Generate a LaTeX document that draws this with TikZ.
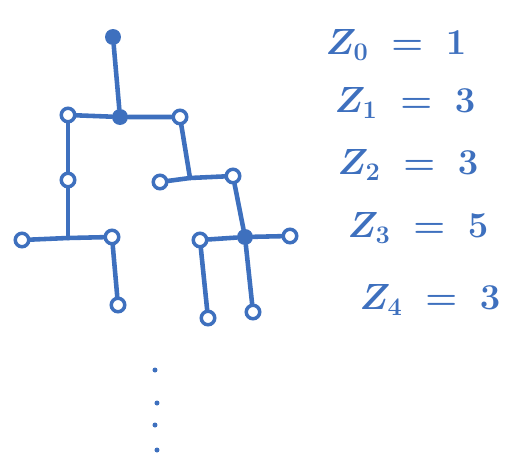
\documentclass[tikz,border=0pt]{standalone}
\usepackage{amsmath}
\usepackage{tikz}
\usetikzlibrary{positioning}
\definecolor{penblue}{RGB}{62,112,190}

\begin{document}
\begin{tikzpicture}[
  x=0.02cm, y=-0.02cm,
  open/.style={circle, draw=penblue, fill=white, line width=2pt,
               minimum size=0.27cm, inner sep=0pt},
  full/.style={circle, fill=penblue, minimum size=0.32cm, inner sep=0pt},
  dot/.style={circle, fill=penblue, minimum size=0.1cm, inner sep=0pt},
  stroke/.style={draw=penblue, line width=2.6pt, line cap=round},
  lab/.style={text=penblue, font=\huge\boldmath}
]
\useasboundingbox (0,0) rectangle (512,457);

% Generation 0
\node[full] (root) at (113,37) {};

% Generation 1
\node[open] (a1) at (68,115) {};
\node[full] (a2) at (120,117) {};
\node[open] (a3) at (180,117) {};

% Generation 2
\node[open] (b1) at (68,180) {};
\node[open] (b2) at (160,182) {};
\node[open] (b3) at (233,176) {};
\coordinate (j2) at (190,178);
\coordinate (j3) at (68,238);

% Generation 3
\node[open] (c1) at (22,240) {};
\node[open] (c2) at (112,237) {};
\node[open] (c3) at (200,240) {};
\node[full] (c4) at (245,237) {};
\node[open] (c5) at (290,236) {};

% Generation 4
\node[open] (d1) at (118,305) {};
\node[open] (d2) at (208,318) {};
\node[open] (d3) at (253,312) {};

% Branches
\draw[stroke] (root) -- (a2);
\draw[stroke] (a1) -- (a2) -- (a3);
\draw[stroke] (a1) -- (b1);
\draw[stroke] (a3) -- (j2);
\draw[stroke] (b2) -- (j2) -- (b3);
\draw[stroke] (b1) -- (j3);
\draw[stroke] (c1) -- (j3) -- (c2);
\draw[stroke] (b3) -- (c4);
\draw[stroke] (c3) -- (c4) -- (c5);
\draw[stroke] (c2) -- (d1);
\draw[stroke] (c3) -- (d2);
\draw[stroke] (c4) -- (d3);

% Continuation dots
\node[dot] (e1) at (155,370) {};
\node[dot] (e2) at (157,403) {};
\node[dot] (e3) at (155,425) {};
\node[dot] (e4) at (157,450) {};

% Generation sizes
\node[lab] (z0) at (396,45)  {$Z_0\ =\ 1$};
\node[lab] (z1) at (405,103) {$Z_1\ =\ 3$};
\node[lab] (z2) at (408,165) {$Z_2\ =\ 3$};
\node[lab] (z3) at (418,228) {$Z_3\ =\ 5$};
\node[lab] (z4) at (430,300) {$Z_4\ =\ 3$};
\end{tikzpicture}
\end{document}
